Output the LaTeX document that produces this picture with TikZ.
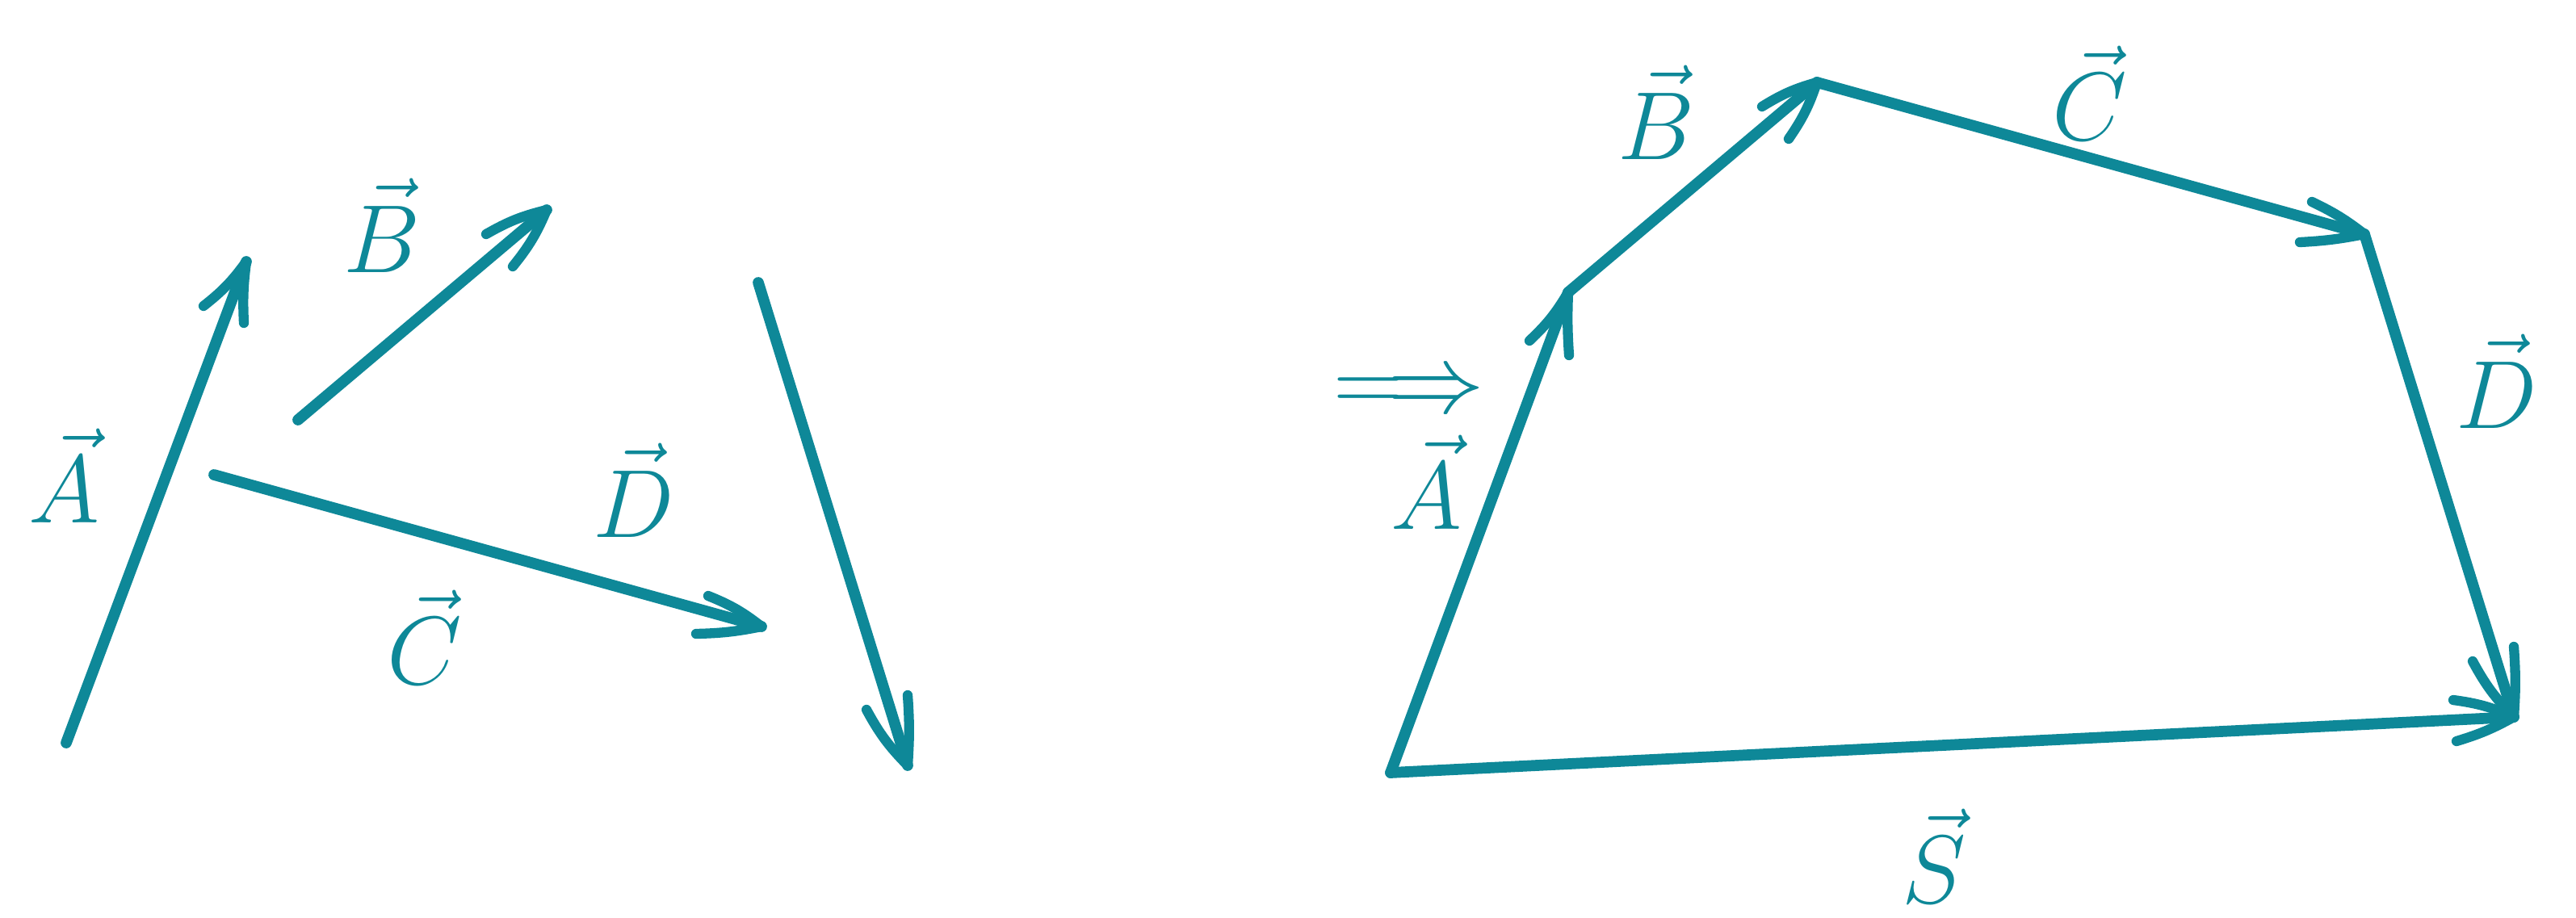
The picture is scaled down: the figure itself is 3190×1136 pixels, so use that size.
\documentclass[tikz,border=0pt]{standalone}
\definecolor{tealc}{RGB}{14,136,152}
\begin{document}
\begin{tikzpicture}[x=0.01cm,y=-0.01cm,
  vec/.style={draw=tealc,line width=3.9pt,line cap=round,line join=round},
  barb/.style={draw=tealc,line width=3.5pt,line cap=round},
  lbl/.style={text=tealc,inner sep=0pt,anchor=base,scale=1.37,font=\fontsize{24.88}{30}\selectfont}]
\useasboundingbox (0,0) rectangle (3190,1136);
% ---------- left group ----------
\coordinate (a0) at (82,920);   \coordinate (a1) at (305,324);
\coordinate (ab1) at (252,379); \coordinate (ab2) at (302,400);
\coordinate (b0) at (369,520);  \coordinate (b1) at (677,260);
\coordinate (bb1) at (602,290); \coordinate (bb2) at (635,330);
\coordinate (c0) at (265,588);  \coordinate (c1) at (943,776);
\coordinate (cb1) at (877,738); \coordinate (cb2) at (862,785);
\coordinate (d0) at (939,350);  \coordinate (d1) at (1124,948);
\coordinate (db1) at (1073,879);\coordinate (db2) at (1124,861);
\draw[vec] (a0) -- (a1);
\draw[barb] (a1) to[bend left=8] (ab1); \draw[barb] (a1) to[bend right=5] (ab2);
\draw[vec] (b0) -- (b1);
\draw[barb] (b1) to[bend right=8] (bb1); \draw[barb] (b1) to[bend left=8] (bb2);
\draw[vec] (c0) -- (c1);
\draw[barb] (c1) to[bend right=8] (cb1); \draw[barb] (c1) to[bend left=5] (cb2);
\draw[vec] (d0) -- (d1);
\draw[barb] (d1) to[bend left=8] (db1); \draw[barb] (d1) to[bend right=4] (db2);
\node[lbl] (lA) at (79,647) {$\vec{A}$};
\node[lbl] (lB) at (473,337) {$\vec{B}$};
\node[lbl] (lC) at (526,847) {$\vec{C}$};
\node[lbl] (lD) at (785,665) {$\vec{D}$};
% ---------- equivalence ----------
\node[lbl] (eq) at (1745,510) {$\Longrightarrow$};
% ---------- right group ----------
\coordinate (p0) at (1722,957); \coordinate (p1) at (1942,362);
\coordinate (p2) at (2250,102); \coordinate (p3) at (2928,290);
\coordinate (p4) at (3113,888);
\coordinate (rab1) at (1894,422); \coordinate (rab2) at (1943,440);
\coordinate (rbb1) at (2182,132); \coordinate (rbb2) at (2215,172);
\coordinate (rcb1) at (2863,250); \coordinate (rcb2) at (2848,300);
\coordinate (rdb1) at (3062,819); \coordinate (rdb2) at (3113,801);
\coordinate (rsb1) at (3038,867); \coordinate (rsb2) at (3042,918);
\draw[vec] (p0) -- (p1);
\draw[barb] (p1) to[bend left=8] (rab1); \draw[barb] (p1) to[bend right=3] (rab2);
\draw[vec] (p1) -- (p2);
\draw[barb] (p2) to[bend right=8] (rbb1); \draw[barb] (p2) to[bend left=8] (rbb2);
\draw[vec] (p2) -- (p3);
\draw[barb] (p3) to[bend right=6] (rcb1); \draw[barb] (p3) to[bend left=4] (rcb2);
\draw[vec] (p3) -- (p4);
\draw[barb] (p4) to[bend left=8] (rdb1); \draw[barb] (p4) to[bend right=4] (rdb2);
\draw[vec] (p0) -- (p4);
\draw[barb] (p4) to[bend right=8] (rsb1); \draw[barb] (p4) to[bend left=6] (rsb2);
\node[lbl] (rA) at (1766,655) {$\vec{A}$};
\node[lbl] (rB) at (2051,197) {$\vec{B}$};
\node[lbl] (rC) at (2588,173) {$\vec{C}$};
\node[lbl] (rD) at (3092,530) {$\vec{D}$};
\node[lbl] (rS) at (2395,1118) {$\vec{S}$};
\end{tikzpicture}
\end{document}
